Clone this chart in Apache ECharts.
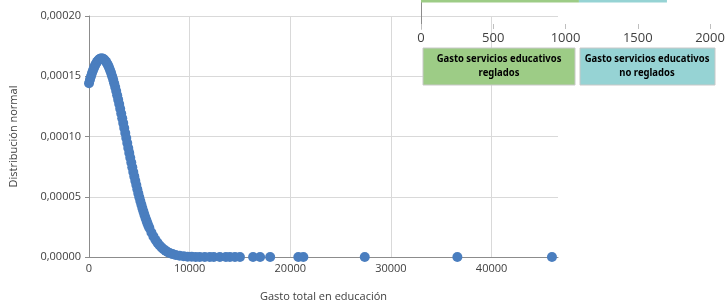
<!DOCTYPE html>
<html>
<head>
<meta charset="utf-8">
<script src="https://cdn.jsdelivr.net/npm/echarts@6/dist/echarts.min.js"></script>
<style>
  html, body { margin: 0; padding: 0; background: #fff; }
  #chart { width: 725px; height: 303px; }
</style>
</head>
<body>
<div id="chart"></div>
<script>
// gasto total (eje x)
const gastoTotal = [
  0, 100, 200, 300, 400, 500, 600, 700, 800, 900,
  1000, 1100, 1200, 1300, 1400, 1500, 1600, 1700, 1800, 1900,
  2000, 2100, 2200, 2300, 2400, 2500, 2600, 2700, 2800, 2900,
  3000, 3100, 3200, 3300, 3400, 3500, 3600, 3700, 3800, 3900,
  4000, 4100, 4200, 4300, 4400, 4500, 4600, 4700, 4800, 4900,
  5000, 5100, 5200, 5300, 5400, 5500, 5600, 5700, 5800, 5900,
  6000, 6200, 6400, 6600, 6800, 7000, 7200, 7400, 7600, 7800,
  8000, 8300, 8600, 9000, 9400, 9800, 10200, 10600, 11000, 11500,
  12000, 12400, 13000, 13600, 14000, 14500, 15000, 16300, 17000, 18000,
  20800, 21300, 27400, 36600, 46000
];
// distribución normal (eje y)
const distNormal = [
  0.0001442, 0.0001472, 0.0001500, 0.0001526, 0.0001549, 0.0001571, 0.0001590, 0.0001606, 0.0001620, 0.0001631,
  0.0001639, 0.0001645, 0.0001648, 0.0001648, 0.0001645, 0.0001639, 0.0001631, 0.0001620, 0.0001606, 0.0001590,
  0.0001571, 0.0001549, 0.0001526, 0.0001500, 0.0001472, 0.0001442, 0.0001411, 0.0001377, 0.0001342, 0.0001306,
  0.0001269, 0.0001230, 0.0001191, 0.0001151, 0.0001111, 0.0001070, 0.0001029, 0.0000987, 0.0000946, 0.0000905,
  0.0000864, 0.0000824, 0.0000784, 0.0000745, 0.0000706, 0.0000669, 0.0000632, 0.0000597, 0.0000562, 0.0000528,
  0.0000496, 0.0000465, 0.0000435, 0.0000406, 0.0000379, 0.0000353, 0.0000328, 0.0000304, 0.0000281, 0.0000260,
  0.0000240, 0.0000203, 0.0000171, 0.0000143, 0.0000119, 0.0000098, 0.0000080, 0.0000065, 0.0000053, 0.0000042,
  0.0000034, 0.0000024, 0.0000016, 0.0000010, 0.0000006, 0.0000003, 0.0000002, 0.0000001, 0, 0,
  0, 0, 0, 0, 0, 0, 0, 0, 0, 0,
  0, 0, 0, 0, 0
];
// recuadro: gasto medio por tipo de servicio
const tiposServicio = ['Gasto servicios educativos reglados', 'Gasto servicios educativos no reglados'];
const gastoServicios = [1093, 609];
const ticksServicio = [0, 500, 1000, 1500, 2000];

const puntos = gastoTotal.map((x, i) => [x, distNormal[i]]);

const boxFont = 'bold 11px "Noto Sans", sans-serif';

// una línea de texto de los recuadros
function boxLine(text, x, y) {
  return {
    type: 'text',
    x: x, y: y,
    scaleX: 0.86,
    z: 10,
    style: { text: text, fill: '#000', font: boxFont, align: 'center', verticalAlign: 'middle' }
  };
}

const myChart = echarts.init(document.getElementById('chart'));
const option = {
  animation: false,
  grid: [
    { left: 89, right: 167, top: 16, bottom: 46, outerBoundsMode: 'none' },
    { left: 421, right: 15, top: 0, height: 29, outerBoundsMode: 'none' }
  ],
  xAxis: [
    {
      gridIndex: 0,
      type: 'value',
      min: 0,
      max: 46600,
      interval: 10000,
      name: 'Gasto total en educación',
      nameLocation: 'middle',
      nameGap: 34,
      nameTextStyle: { color: '#404040', fontSize: 11, fontFamily: 'Open Sans' },
      axisLine: { lineStyle: { color: '#8c8c8c' } },
      axisTick: { show: false },
      axisLabel: {
        color: '#404040', fontSize: 11, fontFamily: 'Open Sans', margin: 6,
        formatter: v => (v % 10000 === 0 ? String(v) : '')
      },
      splitLine: { show: true, showMaxLine: false, lineStyle: { color: '#d9d9d9' } }
    },
    {
      gridIndex: 1,
      type: 'value',
      min: ticksServicio[0],
      max: ticksServicio[ticksServicio.length - 1],
      interval: 500,
      axisLine: { lineStyle: { color: '#8c8c8c' } },
      axisTick: { show: true, inside: true, length: 5, lineStyle: { color: '#bfbfbf' } },
      axisLabel: { color: '#404040', fontSize: 13, fontFamily: 'Open Sans', margin: 3, formatter: v => String(v) },
      splitLine: { show: false }
    }
  ],
  yAxis: [
    {
      gridIndex: 0,
      type: 'value',
      min: 0,
      max: 0.0002,
      interval: 0.00005,
      name: 'Distribución normal',
      nameLocation: 'middle',
      nameGap: 70,
      nameTextStyle: { color: '#404040', fontSize: 11, fontFamily: 'Open Sans' },
      axisLine: { show: true, lineStyle: { color: '#8c8c8c' } },
      axisTick: { show: true, length: 4, lineStyle: { color: '#8c8c8c' } },
      axisLabel: {
        color: '#404040', fontSize: 11, fontFamily: 'Open Sans', margin: 8,
        formatter: v => v.toFixed(5).replace('.', ',')
      },
      splitLine: { lineStyle: { color: '#d9d9d9' } }
    },
    {
      gridIndex: 1,
      type: 'category',
      data: ['', 'servicios'],
      boundaryGap: false,
      axisLine: { show: true, lineStyle: { color: '#8c8c8c' } },
      axisTick: { show: false },
      axisLabel: { show: false },
      splitLine: { show: false }
    }
  ],
  series: [
    {
      type: 'scatter',
      xAxisIndex: 0,
      yAxisIndex: 0,
      symbolSize: 10,
      itemStyle: { color: '#4a7ebf', opacity: 1 },
      data: puntos
    },
    {
      name: tiposServicio[0],
      type: 'bar',
      xAxisIndex: 1,
      yAxisIndex: 1,
      stack: 'serv',
      barWidth: 5,
      clip: false,
      itemStyle: { color: '#9dcc86' },
      data: ['-', gastoServicios[0]]
    },
    {
      name: tiposServicio[1],
      type: 'bar',
      xAxisIndex: 1,
      yAxisIndex: 1,
      stack: 'serv',
      barWidth: 5,
      clip: false,
      itemStyle: { color: '#96d3d4' },
      data: ['-', gastoServicios[1]]
    }
  ],
  graphic: [
    {
      type: 'rect',
      z: 9,
      shape: { x: 423, y: 48, width: 152, height: 37 },
      style: { fill: '#9dcc86', stroke: '#c8c8c8', lineWidth: 1 }
    },
    boxLine('Gasto servicios educativos', 499, 59),
    boxLine('reglados', 499, 73),
    {
      type: 'rect',
      z: 9,
      shape: { x: 580, y: 48, width: 135, height: 37 },
      style: { fill: '#96d3d4', stroke: '#c8c8c8', lineWidth: 1 }
    },
    boxLine('Gasto servicios educativos', 647, 59),
    boxLine('no reglados', 647, 73)
  ]
};
myChart.setOption(option);
window.onresize = myChart.resize;
</script>
</body>
</html>
